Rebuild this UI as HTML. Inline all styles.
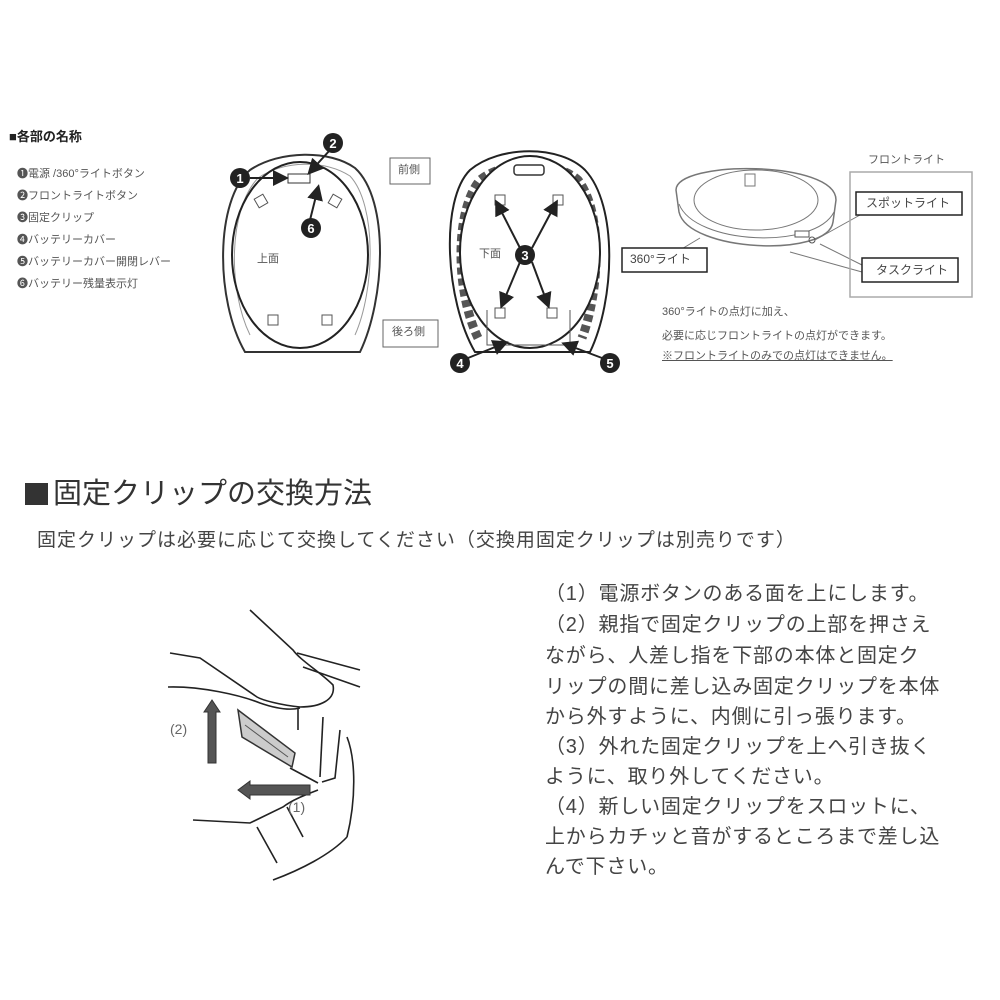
<!DOCTYPE html>
<html><head><meta charset="utf-8">
<style>
html,body{margin:0;padding:0;background:#fff;}
body{width:1000px;height:1000px;position:relative;overflow:hidden;font-family:"Liberation Sans","Noto Sans CJK JP",sans-serif;color:#444;}
.t{position:absolute;white-space:nowrap;line-height:1;}
.li{font-size:11px;color:#555;left:17px;}
.rt{font-size:20px;letter-spacing:0.8px;color:#444;left:545px;}
</style></head><body>
<svg width="1000" height="1000" style="position:absolute;left:0;top:0" xmlns="http://www.w3.org/2000/svg">
<defs><marker id="ah" markerWidth="8" markerHeight="8" refX="6" refY="4" orient="auto"><path d="M0,0 L8,4 L0,8 z" fill="#222"/></marker></defs>
<path d="M245,352 C215,300 215,200 250,170 C280,150 330,150 355,168 C390,200 385,300 360,352 Z" fill="none" stroke="#333" stroke-width="2"/>
<path d="M250,335 C228,290 228,210 258,178 C285,160 325,160 350,176 C377,205 375,290 355,335" fill="none" stroke="#999" stroke-width="1"/>
<ellipse cx="300" cy="255" rx="68" ry="93" fill="none" stroke="#222" stroke-width="2"/>
<rect x="288" y="174" width="22" height="9" fill="#fff" stroke="#333"/>
<rect x="256" y="196" width="10" height="10" fill="#fff" stroke="#555" transform="rotate(-30 261 201)"/>
<rect x="330" y="196" width="10" height="10" fill="#fff" stroke="#555" transform="rotate(30 335 201)"/>
<rect x="268" y="315" width="10" height="10" fill="#fff" stroke="#555"/>
<rect x="322" y="315" width="10" height="10" fill="#fff" stroke="#555"/>
<line x1="250" y1="178" x2="285" y2="178" stroke="#222" stroke-width="2" marker-end="url(#ah)"/>
<line x1="330" y1="150" x2="310" y2="172" stroke="#222" stroke-width="2" marker-end="url(#ah)"/>
<line x1="310" y1="220" x2="318" y2="188" stroke="#222" stroke-width="2" marker-end="url(#ah)"/>
<circle cx="240" cy="178" r="10" fill="#222"/><text x="240" y="183" font-size="13" font-weight="bold" fill="#fff" text-anchor="middle" font-family="Liberation Sans">1</text>
<circle cx="333" cy="143" r="10" fill="#222"/><text x="333" y="148" font-size="13" font-weight="bold" fill="#fff" text-anchor="middle" font-family="Liberation Sans">2</text>
<circle cx="311" cy="228" r="10" fill="#222"/><text x="311" y="233" font-size="13" font-weight="bold" fill="#fff" text-anchor="middle" font-family="Liberation Sans">6</text>
<rect x="390" y="158" width="40" height="26" fill="#fff" stroke="#666"/>
<rect x="383" y="320" width="55" height="27" fill="#fff" stroke="#666"/>
<path d="M475,352 C445,300 440,200 470,170 C500,145 560,145 585,170 C618,205 615,300 590,352 Z" fill="none" stroke="#222" stroke-width="2"/>
<path d="M478,338 C455,290 455,210 480,180 C505,160 555,160 578,180 C603,212 600,290 582,338" fill="none" stroke="#555" stroke-width="9" stroke-dasharray="7 4"/>
<ellipse cx="530" cy="252" rx="70" ry="96" fill="#fff" stroke="#222" stroke-width="2"/>
<rect x="514" y="165" width="30" height="10" rx="3" fill="#fff" stroke="#333" stroke-width="1.5"/>
<rect x="495" y="195" width="10" height="10" fill="#fff" stroke="#555"/>
<rect x="553" y="195" width="10" height="10" fill="#fff" stroke="#555"/>
<rect x="495" y="308" width="10" height="10" fill="#fff" stroke="#555"/>
<rect x="547" y="308" width="10" height="10" fill="#fff" stroke="#555"/>
<path d="M487,310 L487,345 L570,345 L570,310" fill="none" stroke="#555"/>
<line x1="520" y1="248" x2="497" y2="203" stroke="#222" stroke-width="2" marker-end="url(#ah)"/>
<line x1="532" y1="248" x2="556" y2="203" stroke="#222" stroke-width="2" marker-end="url(#ah)"/>
<line x1="520" y1="262" x2="502" y2="305" stroke="#222" stroke-width="2" marker-end="url(#ah)"/>
<line x1="532" y1="262" x2="548" y2="305" stroke="#222" stroke-width="2" marker-end="url(#ah)"/>
<line x1="468" y1="358" x2="505" y2="343" stroke="#222" stroke-width="2" marker-end="url(#ah)"/>
<line x1="602" y1="358" x2="565" y2="344" stroke="#222" stroke-width="2" marker-end="url(#ah)"/>
<circle cx="525" cy="255" r="10" fill="#222"/><text x="525" y="260" font-size="13" font-weight="bold" fill="#fff" text-anchor="middle" font-family="Liberation Sans">3</text>
<circle cx="460" cy="363" r="10" fill="#222"/><text x="460" y="368" font-size="13" font-weight="bold" fill="#fff" text-anchor="middle" font-family="Liberation Sans">4</text>
<circle cx="610" cy="363" r="10" fill="#222"/><text x="610" y="368" font-size="13" font-weight="bold" fill="#fff" text-anchor="middle" font-family="Liberation Sans">5</text>
<path d="M676,190 C676,160 836,160 836,200 L833,222 C828,258 688,252 679,212 Z" fill="#fff" stroke="#777" stroke-width="1.5"/>
<ellipse cx="756" cy="200" rx="62" ry="30" fill="#fff" stroke="#777"/>
<path d="M679,204 C695,245 815,250 834,212" fill="none" stroke="#777"/>
<rect x="745" y="174" width="10" height="12" fill="#fff" stroke="#777"/>
<rect x="795" y="231" width="14" height="6" fill="#fff" stroke="#555"/>
<circle cx="812" cy="240" r="3" fill="none" stroke="#555"/>
<line x1="700" y1="238" x2="680" y2="250" stroke="#777"/>
<line x1="815" y1="240" x2="860" y2="215" stroke="#777"/>
<line x1="820" y1="244" x2="862" y2="265" stroke="#777"/>
<line x1="790" y1="252" x2="862" y2="272" stroke="#777"/>
<rect x="850" y="172" width="122" height="125" fill="none" stroke="#aaa" stroke-width="1.5"/>
<rect x="856" y="192" width="106" height="23" fill="#fff" stroke="#222" stroke-width="1.5"/>
<rect x="862" y="258" width="96" height="24" fill="#fff" stroke="#222" stroke-width="1.5"/>
<rect x="622" y="248" width="85" height="24" fill="#fff" stroke="#222" stroke-width="1.5"/>
<rect x="25" y="483" width="23" height="22" fill="#333"/>
<g fill="none" stroke="#222" stroke-width="1.6">
<path d="M250,610 L293,650 C300,660 320,672 333,685 C336,700 320,707 300,707 C280,705 262,700 257,697 L200,658 L170,653"/>
<path d="M168,687 C200,686 240,695 260,703 C280,710 292,710 300,708"/>
<path d="M297,653 L360,670"/><path d="M303,667 L360,687"/>
<path d="M298,708 L298,730"/>
<path d="M323,717 L320,777"/><path d="M340,730 L335,778 L322,782"/>
<path d="M347,737 C356,760 356,800 347,837"/>
<path d="M193,820 L250,823 L283,807 C292,800 305,795 318,790"/>
<path d="M257,827 L277,863"/><path d="M287,807 L303,837"/>
<path d="M273,880 C300,870 330,855 347,837"/>
<path d="M290,768 L318,783"/>
</g>
<path d="M238,710 L242,737 L292,767 L295,753 Z" fill="#ccc" stroke="#333" stroke-width="1.5"/>
<line x1="245" y1="725" x2="288" y2="757" stroke="#555"/>
<path d="M208,763 L208,712 L204,712 L212,700 L220,712 L216,712 L216,763 Z" fill="#555" stroke="#333"/>
<path d="M310,785 L250,785 L250,781 L238,790 L250,799 L250,795 L310,795 Z" fill="#555" stroke="#333"/>
</svg>
<div class="t" style="left:9px;top:130px;font-size:13px;font-weight:bold;color:#222;">■各部の名称</div>
<div class="t li" style="top:169px;">❶電源 /360°ライトボタン</div>
<div class="t li" style="top:191px;">❷フロントライトボタン</div>
<div class="t li" style="top:213px;">❸固定クリップ</div>
<div class="t li" style="top:235px;">❹バッテリーカバー</div>
<div class="t li" style="top:257px;">❺バッテリーカバー開閉レバー</div>
<div class="t li" style="top:279px;">❻バッテリー残量表示灯</div>
<div class="t" style="left:257px;top:254px;font-size:11px;color:#555;">上面</div>
<div class="t" style="left:479px;top:249px;font-size:11px;color:#555;">下面</div>
<div class="t" style="left:398px;top:165px;font-size:11px;color:#555;">前側</div>
<div class="t" style="left:392px;top:327px;font-size:11px;color:#555;">後ろ側</div>
<div class="t" style="left:868px;top:155px;font-size:11px;color:#555;">フロントライト</div>
<div class="t" style="left:866px;top:197px;font-size:12px;color:#444;">スポットライト</div>
<div class="t" style="left:876px;top:264px;font-size:12px;color:#444;">タスクライト</div>
<div class="t" style="left:630px;top:253px;font-size:12px;color:#444;">360°ライト</div>
<div class="t" style="left:662px;top:307px;font-size:11px;color:#555;">360°ライトの点灯に加え、</div>
<div class="t" style="left:662px;top:331px;font-size:11px;color:#555;">必要に応じフロントライトの点灯ができます。</div>
<div class="t" style="left:662px;top:351px;font-size:11px;color:#555;text-decoration:underline;">※フロントライトのみでの点灯はできません。</div>
<div class="t" style="left:53px;top:480px;font-size:29px;letter-spacing:0px;color:#333;">固定クリップの交換方法</div>
<div class="t" style="left:37px;top:531px;font-size:19px;letter-spacing:1px;color:#444;">固定クリップは必要に応じて交換してください（交換用固定クリップは別売りです）</div>
<div class="t" style="left:170px;top:722px;font-size:14px;color:#666;">(2)</div>
<div class="t" style="left:288px;top:800px;font-size:14px;color:#666;">(1)</div>
<div class="t rt" style="top:584px;">（1）電源ボタンのある面を上にします。</div>
<div class="t rt" style="top:615px;">（2）親指で固定クリップの上部を押さえ</div>
<div class="t rt" style="top:646px;">ながら、人差し指を下部の本体と固定ク</div>
<div class="t rt" style="top:677px;">リップの間に差し込み固定クリップを本体</div>
<div class="t rt" style="top:707px;">から外すように、内側に引っ張ります。</div>
<div class="t rt" style="top:737px;">（3）外れた固定クリップを上へ引き抜く</div>
<div class="t rt" style="top:767px;">ように、取り外してください。</div>
<div class="t rt" style="top:797px;">（4）新しい固定クリップをスロットに、</div>
<div class="t rt" style="top:827px;">上からカチッと音がするところまで差し込</div>
<div class="t rt" style="top:857px;">んで下さい。</div>
</body></html>
